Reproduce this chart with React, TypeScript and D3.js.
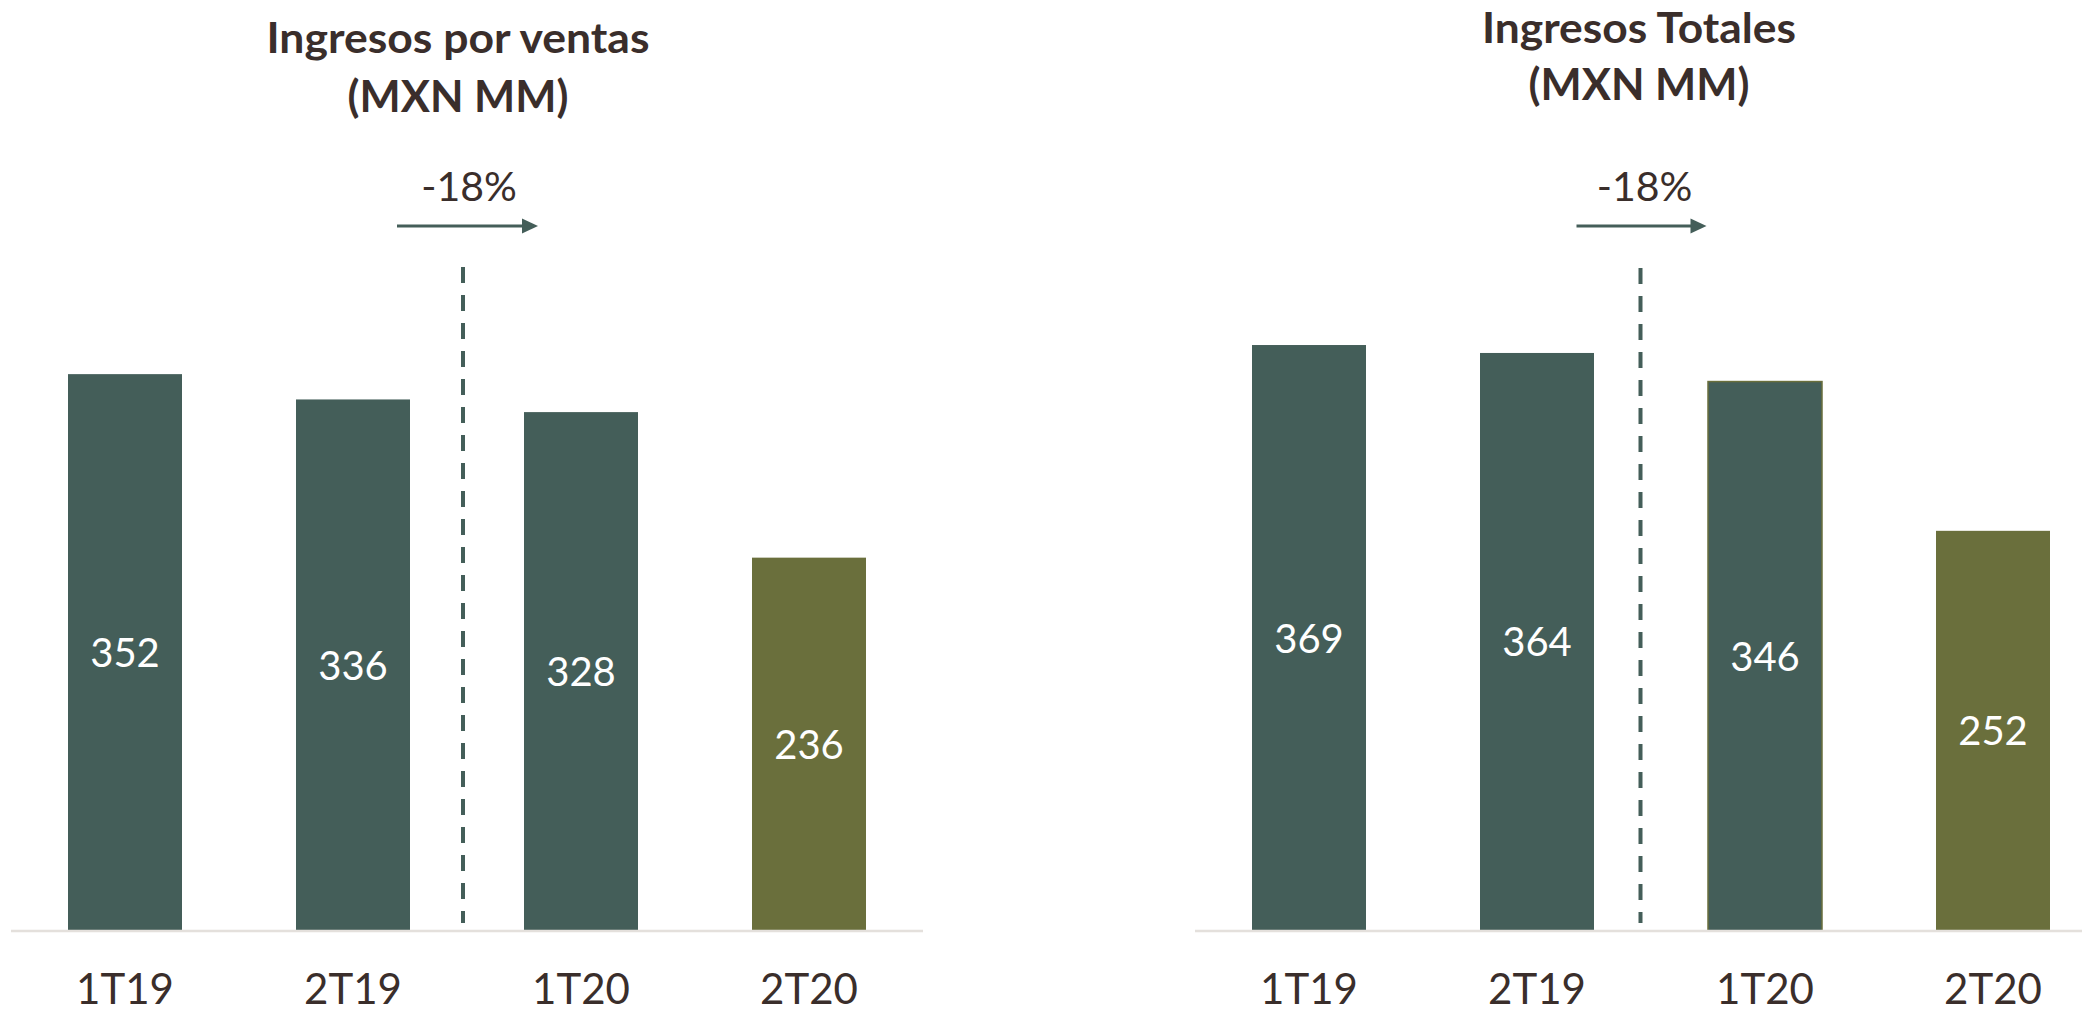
import React from 'react';
import * as d3 from 'd3';

const categories = ['1T19', '2T19', '1T20', '2T20'];
const ventasValues = [352, 336, 328, 236];
const totalesValues = [369, 364, 346, 252];
const ventasTitle = ['Ingresos por ventas', '(MXN MM)'];
const totalesTitle = ['Ingresos Totales', '(MXN MM)'];
const changeLabels = ['-18%', '-18%'];

const DARK = '#445e59';
const OLIVE = '#6a6f3c';
const TEXT = '#3a2e2b';
const FONT = 'Lato, "Open Sans", sans-serif';

type PanelProps = {
  values: number[];
  title: string[];
  range: [number, number];
  pxPerUnit: number;
  titleX: number;
  titleYs: [number, number];
  titleLen: number;
  dashDx: number;
  dashTop: number;
  textDx: number;
  arrowFrom: number;
  arrowTo: number;
  change: string;
  outlineIdx: number;
};

function Panel(p: PanelProps) {
  const base = 931;
  const x = d3.scaleBand<string>().domain(categories).range(p.range).paddingInner(0.5).paddingOuter(0.25);
  const y = d3.scaleLinear().domain([0, 400]).range([base, base - p.pxPerUnit * 400]);
  const bw = x.bandwidth();
  const gapMid = ((x(categories[1]) as number) + bw + (x(categories[2]) as number)) / 2;
  const ax1 = gapMid + p.arrowFrom;
  const ax2 = gapMid + p.arrowTo;
  return (
    <g>
      <text x={p.titleX} y={p.titleYs[0]} textAnchor="middle" fontFamily={FONT} fontWeight={700} fontSize={42} fill={TEXT}
        textLength={p.titleLen} lengthAdjust="spacingAndGlyphs">{p.title[0]}</text>
      <text x={p.titleX} y={p.titleYs[1]} textAnchor="middle" fontFamily={FONT} fontWeight={700} fontSize={43} fill={TEXT}
        textLength={221} lengthAdjust="spacingAndGlyphs">{p.title[1]}</text>
      <text x={gapMid + p.textDx} y={201} textAnchor="middle" fontFamily={FONT} fontSize={41} fill={TEXT}>{p.change}</text>
      <line x1={ax1} x2={ax2 - 14} y1={226} y2={226} stroke={DARK} strokeWidth={3} />
      <polygon points={`${ax2},226 ${ax2 - 16},218.5 ${ax2 - 16},233.5`} fill={DARK} />
      <line x1={gapMid + p.dashDx} x2={gapMid + p.dashDx} y1={p.dashTop} y2={923} stroke={DARK} strokeWidth={4} strokeDasharray="16 12" />
      {p.values.map((v, i) => (
        <rect key={categories[i]} x={x(categories[i])} y={y(v)} width={bw} height={base - y(v)}
          fill={i === 3 ? OLIVE : DARK}
          stroke={i === p.outlineIdx ? OLIVE : 'none'} strokeWidth={1.5} />
      ))}
      <line x1={p.range[0]} x2={p.range[1]} y1={base} y2={base} stroke="#e4e0dc" strokeWidth={2.5} />
      {p.values.map((v, i) => (
        <text key={'l' + i} x={(x(categories[i]) as number) + bw / 2} y={(y(v) + base) / 2 + 14.5} textAnchor="middle"
          fontFamily={FONT} fontSize={40} fill="#ffffff">{v}</text>
      ))}
      {categories.map((c) => (
        <text key={'c' + c} x={(x(c) as number) + bw / 2} y={1004} textAnchor="middle" fontFamily={FONT} fontSize={42} fill={TEXT}>{c}</text>
      ))}
    </g>
  );
}

export default function App() {
  return (
    <svg width={2082} height={1013} style={{ position: 'absolute', left: 0, top: 0, display: 'block', background: '#fff' }}>
      <rect x={0} y={0} width={2082} height={1013} fill="#ffffff" />
      <Panel values={ventasValues} title={ventasTitle} range={[11, 923]} pxPerUnit={1.582}
        titleX={458} titleYs={[53, 112]} titleLen={383} dashDx={-4} dashTop={267} textDx={2}
        arrowFrom={-70} arrowTo={71} change={changeLabels[0]} outlineIdx={-1} />
      <Panel values={totalesValues} title={totalesTitle} range={[1195, 2107]} pxPerUnit={1.588}
        titleX={1639} titleYs={[43, 100]} titleLen={314} dashDx={-10.5} dashTop={268} textDx={-6.5}
        arrowFrom={-74.5} arrowTo={55.5} change={changeLabels[1]} outlineIdx={2} />
    </svg>
  );
}
